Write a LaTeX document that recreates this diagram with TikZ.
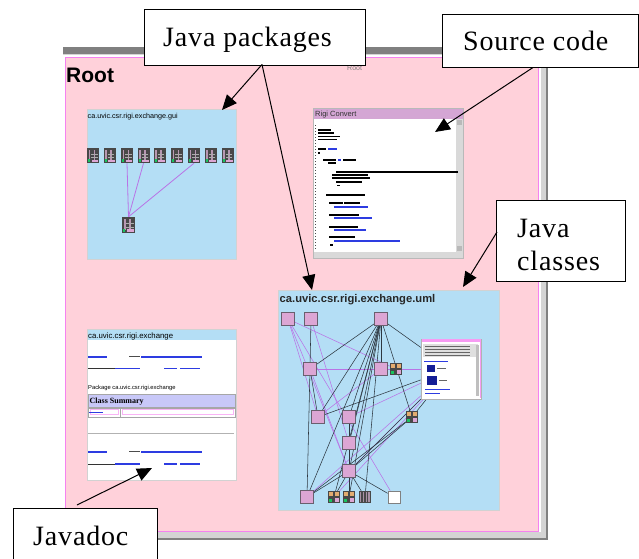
\documentclass[tikz,border=0pt]{standalone}
\usepackage{fontspec}
\setmainfont{Liberation Serif}
\newfontfamily\uifont{Liberation Sans}
\newfontfamily\calloutfont[LetterSpace=3]{Liberation Serif}
\usetikzlibrary{arrows.meta}

\definecolor{rootpink}{RGB}{255,209,218}
\definecolor{rootedge}{RGB}{245,130,240}
\definecolor{framegrey}{RGB}{128,128,128}
\definecolor{framelight}{RGB}{212,212,212}
\definecolor{panelblue}{RGB}{180,222,245}
\definecolor{classpink}{RGB}{220,166,212}
\definecolor{classedge}{RGB}{105,95,110}
\definecolor{edgepurple}{RGB}{185,115,230}
\definecolor{edgedark}{RGB}{45,55,65}
\definecolor{titlemauve}{RGB}{212,166,212}
\definecolor{linkblue}{RGB}{45,60,225}
\definecolor{navy}{RGB}{20,30,150}
\definecolor{summarylav}{RGB}{200,200,248}
\definecolor{iconbrown}{RGB}{226,172,112}
\definecolor{icongreen}{RGB}{25,195,95}
\definecolor{icondark}{RGB}{72,72,72}

\pgfdeclarelayer{back}
\pgfdeclarelayer{wires}
\pgfsetlayers{back,wires,main}

\tikzset{
  pics/pkgicon/.style={code={
    \fill[icondark] (-6,-7.5) rectangle (6,7.5);
    \fill[classpink!60!gray] (-4.5,-5.5) rectangle (-2.8,5);
    \fill[classpink!60!gray] (0.6,-5.5) rectangle (2.3,5);
    \fill[gray!65] (-2,-2) rectangle (4.8,-1);
    \fill[gray!65] (-2,1.5) rectangle (4.8,2.5);
    \fill[icongreen] (-5,3.5) rectangle (-3,6.2);
    \fill[classpink] (-1.5,4) rectangle (5,6.2);
  }},
  pics/quadicon/.style={code={
    \fill[icondark] (-6,-6) rectangle (6,6);
    \fill[iconbrown] (-5,-5) rectangle (-0.6,-0.6);
    \fill[iconbrown] (0.6,-5) rectangle (5,-0.6);
    \fill[classpink] (0.6,0.6) rectangle (5,5);
    \fill[icongreen] (-5,2) rectangle (-2.4,5);
  }},
  pics/stripeicon/.style={code={
    \fill[icondark] (-6,-6) rectangle (6,6);
    \foreach \s in {-4.5,-1.5,1.5,4} \fill[classpink!45!gray] (\s-0.6,-5) rectangle (\s+0.6,5);
  }},
}

\begin{document}
\begin{tikzpicture}[x=1pt,y=-1pt,
  callout/.style={draw=black,line width=1.1pt,fill=white,inner sep=0pt,anchor=north west},
  calltext/.style={anchor=base west,inner sep=0pt,font=\calloutfont\fontsize{28}{30}\selectfont},
  pointer/.style={draw=black,line width=1pt,-{Triangle[length=15pt,width=13pt]}},
  panel/.style={inner sep=0pt,anchor=north west,draw=gray!35,line width=0.5pt},
  cls/.style={draw=classedge,fill=classpink,line width=0.7pt,minimum size=12.5pt,inner sep=0pt},
  icon/.style={minimum width=12pt,minimum height=15pt,inner sep=0pt},
  sqicon/.style={minimum size=12pt,inner sep=0pt},
  darkedge/.style={draw=edgedark,line width=0.55pt},
  lightedge/.style={draw=edgepurple,line width=0.55pt},
  codeline/.style={line width=1.2pt},
  link/.style={draw=linkblue,line width=1.3pt},
  plain/.style={draw=black!80,line width=1.1pt},
]
\useasboundingbox (0,0) rectangle (639,558);
\clip (0,0) rectangle (639,558);

\begin{pgfonlayer}{back}
\fill[white] (0,0) rectangle (639,558);
% window frame around the root view
\fill[framegrey] (63,47) rectangle (548,540);
\fill[framelight] (63,54) rectangle (546,538);
\fill[white] (63,55) rectangle (541,532);
\node[draw=rootedge,fill=rootpink,line width=1.3pt,anchor=north west,
      minimum width=473pt,minimum height=474pt,inner sep=0pt] (rootwin) at (64.5,56.5) {};
\node[anchor=base west,inner sep=0pt,font=\uifont\bfseries\fontsize{21}{21}\selectfont] (roottitle) at (66,82) {Root};
\node[anchor=base west,inner sep=0pt,text=gray,font=\uifont\fontsize{7}{7}\selectfont] (rootsmall) at (347,70) {Root};

% package view: ca.uvic.csr.rigi.exchange.gui
\node[panel,fill=panelblue,minimum width=149pt,minimum height=150pt] (guipanel) at (87,109) {};
\node[anchor=base west,inner sep=0pt,font=\uifont\fontsize{7.2}{8}\selectfont] (guititle) at (87.5,118) {ca.uvic.csr.rigi.exchange.gui};

% source code window
\node[panel,fill=white,draw=gray!55,minimum width=150pt,minimum height=150pt] (srcwin) at (313,108) {};
\fill[titlemauve] (313.5,108.5) rectangle (462.5,118.5);
\node[anchor=base west,inner sep=0pt,text=black!80,font=\uifont\fontsize{7.5}{8}\selectfont] (srctitle) at (315,116.5) {Rigi Convert};
\fill[gray!30] (456,119) rectangle (462.5,252);
\fill[gray!55] (457,120) rectangle (461.5,125);
\fill[gray!30] (313.5,252) rectangle (462.5,257.5);
\fill[gray!55] (457,246) rectangle (461.5,251);
\draw[black!70,line width=0.8pt,dash pattern=on 1.2pt off 1.8pt] (315.5,125) -- (315.5,250);
\foreach \y/\xa/\xb/\c in {
  130/318/331/black, 133/318/334/black, 136.5/318/340/black, 139.5/318/337/black,
  149/318/326/black, 149/328/337/linkblue, 153/318/320/black,
  160/323/336/black, 160/338/341/linkblue, 160/343/356/black, 163/328/336/black,
  172/336/458/black, 175/332/368/black, 178/332/370/black, 182/336/362/black, 185.5/337/340/black,
  195/326/365/black,
  203/329/343/black, 203/344/360/black, 207/334/368/linkblue,
  215/329/359/black, 218/334/372/linkblue,
  227/329/358/black, 230/334/366/linkblue,
  237/329/355/black, 241/334/400/linkblue, 245/330/333/black}
  \draw[codeline,\c] (\xa,\y) -- (\xb,\y);

% javadoc page
\node[panel,fill=white,minimum width=149pt,minimum height=151pt] (jdocpanel) at (87,329) {};
\fill[panelblue] (87.5,329.5) rectangle (235.5,340);
\node[anchor=base west,inner sep=0pt,font=\uifont\fontsize{7.8}{8}\selectfont] (jdoctitle) at (88,338) {ca.uvic.csr.rigi.exchange};
\foreach \y in {357,452} {
  \draw[link] (88,\y) -- (107,\y);
  \draw[black!70,line width=1pt] (129,\y-0.5) -- (140,\y-0.5);
  \draw[link] (141,\y) -- (202,\y);
}
\foreach \y in {368.5,464} {
  \draw[plain,line width=1pt] (88,\y) -- (115,\y);
  \draw[link] (115,\y) -- (140,\y);
  \draw[link] (164,\y) -- (177,\y);
  \draw[link] (180,\y) -- (200,\y);
}
\node[anchor=base west,inner sep=0pt,font=\uifont\fontsize{5.8}{6}\selectfont] (pkgline) at (88,389) {Package ca.uvic.csr.rigi.exchange};
\node[draw=gray!70,fill=summarylav,line width=0.7pt,anchor=north west,
      minimum width=147pt,minimum height=13pt,inner sep=0pt] (sumbar) at (88,393.5) {};
\node[anchor=base west,inner sep=0pt,font=\bfseries\fontsize{8}{8}\selectfont] (sumtext) at (89.5,403.5) {Class Summary};
\node[draw=gray!70,line width=0.7pt,anchor=north west,
      minimum width=147pt,minimum height=9pt,inner sep=0pt] (sumrow) at (88,407.5) {};
\draw[gray!70,line width=0.7pt] (sumrow.north west) ++(32,0) -- ++(0,9);
\draw[rootedge!60,line width=0.5pt] (90,409.5) rectangle (118.5,414.5);
\draw[rootedge!60,line width=0.5pt] (122,409.5) rectangle (233,414.5);
\draw[link,line width=1.1pt] (89,412.5) -- (103,412.5);
\draw[gray!60,line width=0.9pt] (88,433) -- (234,433);

% UML class view
\node[panel,fill=panelblue,minimum width=221pt,minimum height=220pt] (umlpanel) at (278,290) {};
\node[anchor=base west,inner sep=0pt,text=black!85,font=\uifont\bfseries\fontsize{11.2}{12}\selectfont] (umltitle) at (279.5,302) {ca.uvic.csr.rigi.exchange.uml};
\end{pgfonlayer}

% package icons in the gui view
\foreach \n/\x in {1/93,2/109.5,3/127,4/143.5,5/159.5,6/177,7/194,8/210.5,9/227.5}
  \node[icon] (g\n) at (\x,155.5) {};
\node[icon,minimum width=13pt,minimum height=16pt] (gb) at (128.5,225) {};
\foreach \n in {1,...,9} \pic at (g\n) {pkgicon};
\pic[scale=1.05] at (gb) {pkgicon};
\begin{pgfonlayer}{wires}
\foreach \n in {3,4,7} \draw[lightedge,line width=0.8pt] (g\n.south) -- (gb.north);
\end{pgfonlayer}

% classes of the uml view
\node[cls] (a) at (288,319) {};
\node[cls] (b) at (311,319) {};
\node[cls] (c) at (381,319) {};
\node[cls] (d) at (310,369) {};
\node[cls] (e) at (381,369) {};
\node[sqicon] (f) at (396,369) {};
\node[cls] (g) at (318,417) {};
\node[cls] (h) at (349,417) {};
\node[sqicon] (i) at (412,417) {};
\node[cls] (j) at (349,443) {};
\node[cls] (k) at (349,471) {};
\node[cls] (l) at (307,497) {};
\node[sqicon] (m) at (334,497) {};
\node[sqicon] (n) at (349,497) {};
\node[sqicon] (o) at (365,497) {};
\node[draw=gray,fill=white,line width=0.8pt,minimum size=12pt,inner sep=0pt] (p) at (394,497) {};
\pic at (f) {quadicon};
\pic at (i) {quadicon};
\pic at (m) {quadicon};
\pic at (n) {quadicon};
\pic at (o) {stripeicon};

% embedded editor window inside the uml view
\node[draw=gray!60,fill=white,line width=0.6pt,minimum width=60pt,minimum height=60pt,inner sep=0pt] (w) at (451,369) {};
\fill[rootedge!80] (421.5,339.3) rectangle (480.7,342.3);
\draw[rootedge!80,line width=0.8pt] (480.7,339.3) -- (480.7,398);
\fill[gray!25] (423,344) rectangle (478,357);
\foreach \y in {346.5,349.5,352.5,355} \draw[black!60,line width=0.6pt] (425,\y) -- (470,\y);
\draw[linkblue,line width=0.8pt] (424,361) -- (448,361);
\fill[navy] (427,365) rectangle (435,372);
\draw[black!60,line width=0.7pt] (437,368) -- (446,368);
\fill[navy] (427,376) rectangle (437,385);
\draw[black!60,line width=0.7pt] (439,380) -- (447,380);
\draw[linkblue,line width=0.7pt] (425,389) -- (450,389);
\draw[linkblue,line width=0.7pt] (425,393) -- (440,393);
\fill[gray!50] (476,345) rectangle (479,396);

\begin{pgfonlayer}{wires}
\foreach \s/\t in {a/k,a/p,a/g,a/f,b/j,d/k,e/g,w/l,w/m,w/d,w/h,w/k}
  \draw[lightedge] (\s) -- (\t);
\foreach \s/\t in {c/d,c/g,c/h,c/j,c/k,c/e,c/i,c/w,c/l,c/m,c/n,c/o,
                   b/d,d/g,d/l,h/j,j/k,k/i,k/l,k/m,k/n,k/o,k/p,i/w,k/w,g/w,l/i}
  \draw[darkedge] (\s) -- (\t);
\end{pgfonlayer}

% callout labels
\node[callout,minimum width=221pt,minimum height=56pt] (jpbox) at (144,9) {};
\node[calltext] (jptext) at (163,46) {Java packages};
\node[callout,minimum width=196pt,minimum height=53pt] (scbox) at (442,14) {};
\node[calltext] (sctext) at (463,50) {Source code};
\node[callout,minimum width=129pt,minimum height=81pt] (jcbox) at (496,200) {};
\node[calltext] (jctext1) at (517,237) {Java};
\node[calltext] (jctext2) at (517,270) {classes};
\node[callout,minimum width=144pt,minimum height=70pt] (jdbox) at (13,508) {};
\node[calltext] (jdtext) at (33,545) {Javadoc};

% pointers from the callouts
\coordinate (jpfoot) at (262,64.5);
\coordinate (guitip) at (222,110);
\coordinate (umltip) at (312,290);
\coordinate (scfoot) at (533,67.5);
\coordinate (srctip) at (435,132);
\coordinate (jcfoot) at (497,232);
\coordinate (umltip2) at (463,287);
\coordinate (jdfoot) at (77,505);
\coordinate (jdtip) at (152,468);
\draw[pointer] (jpfoot) -- (guitip);
\draw[pointer] (jpfoot) -- (umltip);
\draw[pointer] (scfoot) -- (srctip);
\draw[pointer] (jcfoot) -- (umltip2);
\draw[pointer] (jdfoot) -- (jdtip);
\end{tikzpicture}
\end{document}
